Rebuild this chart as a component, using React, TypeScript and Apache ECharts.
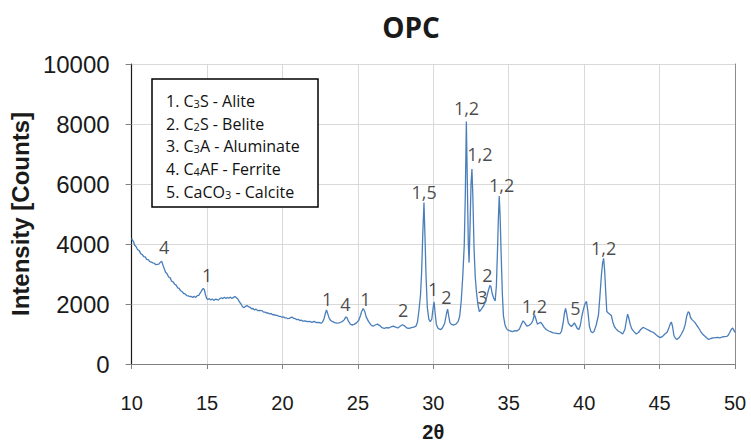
import React, { useEffect, useRef } from "react";
import * as echarts from "echarts";

const twoTheta = [
  10.0, 10.05, 10.12, 10.2, 10.3, 10.4, 10.5, 10.6, 10.7, 10.8, 10.9, 11.0, 11.1, 11.2, 11.3, 11.4, 11.5, 11.6, 11.7, 11.8, 11.9, 12.0,
  12.08, 12.15, 12.25, 12.35, 12.45, 12.55, 12.65, 12.75, 12.85, 12.95, 13.05, 13.15, 13.25, 13.35, 13.45, 13.55, 13.65, 13.75, 13.85,
  13.95, 14.05, 14.15, 14.25, 14.35, 14.45, 14.55, 14.65, 14.75, 14.82, 14.9, 14.98, 15.05, 15.15, 15.25, 15.35, 15.45, 15.55, 15.65,
  15.75, 15.85, 15.95, 16.05, 16.15, 16.25, 16.35, 16.45, 16.55, 16.65, 16.75, 16.85, 16.95, 17.05, 17.15, 17.25, 17.35, 17.45, 17.55,
  17.65, 17.75, 17.85, 17.95, 18.05, 18.15, 18.25, 18.35, 18.45, 18.55, 18.65, 18.75, 18.85, 18.95, 19.05, 19.15, 19.25, 19.35, 19.45,
  19.55, 19.65, 19.75, 19.85, 19.95, 20.05, 20.15, 20.25, 20.35, 20.45, 20.55, 20.65, 20.75, 20.85, 20.95, 21.05, 21.15, 21.25, 21.35,
  21.5, 21.65, 21.8, 21.95, 22.1, 22.25, 22.4, 22.55, 22.65, 22.75, 22.85, 22.92, 23.0, 23.1, 23.2, 23.3, 23.45, 23.6, 23.75, 23.9,
  24.0, 24.1, 24.2, 24.28, 24.38, 24.5, 24.6, 24.75, 24.9, 25.05, 25.15, 25.25, 25.35, 25.45, 25.55, 25.7, 25.85, 26.0, 26.15, 26.3,
  26.45, 26.6, 26.75, 26.9, 27.05, 27.2, 27.35, 27.5, 27.65, 27.8, 27.95, 28.1, 28.25, 28.4, 28.55, 28.7, 28.85, 28.95, 29.05, 29.15,
  29.22, 29.3, 29.38, 29.45, 29.52, 29.6, 29.7, 29.8, 29.9, 29.98, 30.05, 30.12, 30.2, 30.3, 30.4, 30.5, 30.6, 30.75, 30.88, 30.95,
  31.02, 31.1, 31.2, 31.35, 31.5, 31.65, 31.75, 31.85, 31.95, 32.05, 32.12, 32.19, 32.25, 32.32, 32.37, 32.43, 32.5, 32.56, 32.62, 32.7,
  32.78, 32.86, 32.95, 33.05, 33.15, 33.25, 33.35, 33.45, 33.55, 33.65, 33.75, 33.82, 33.9, 34.0, 34.1, 34.18, 34.25, 34.31, 34.37,
  34.43, 34.5, 34.58, 34.65, 34.75, 34.85, 34.95, 35.1, 35.25, 35.4, 35.55, 35.7, 35.85, 35.95, 36.05, 36.2, 36.35, 36.5, 36.6, 36.7,
  36.8, 36.9, 37.0, 37.1, 37.2, 37.35, 37.5, 37.65, 37.8, 37.95, 38.1, 38.25, 38.4, 38.5, 38.6, 38.7, 38.77, 38.85, 38.95, 39.05, 39.15,
  39.25, 39.35, 39.45, 39.55, 39.65, 39.75, 39.85, 39.95, 40.05, 40.15, 40.25, 40.35, 40.45, 40.55, 40.65, 40.8, 40.95, 41.05, 41.15,
  41.22, 41.29, 41.36, 41.43, 41.5, 41.6, 41.7, 41.8, 41.9, 42.0, 42.1, 42.25, 42.4, 42.55, 42.7, 42.8, 42.88, 42.95, 43.05, 43.15,
  43.3, 43.45, 43.6, 43.75, 43.9, 44.0, 44.15, 44.3, 44.45, 44.6, 44.75, 44.9, 45.05, 45.2, 45.35, 45.5, 45.6, 45.7, 45.78, 45.86,
  45.95, 46.05, 46.15, 46.3, 46.45, 46.6, 46.7, 46.8, 46.9, 46.98, 47.05, 47.15, 47.25, 47.35, 47.45, 47.55, 47.65, 47.75, 47.85,
  47.95, 48.1, 48.25, 48.4, 48.55, 48.7, 48.85, 49.0, 49.15, 49.3, 49.45, 49.55, 49.65, 49.75, 49.85, 49.93, 50.0,
];

const intensity = [
  4200, 4120, 4090, 3960, 3910, 3810, 3780, 3680, 3650, 3580, 3570, 3490, 3480, 3410, 3400, 3370, 3360, 3310, 3320, 3330, 3390, 3420,
  3290, 3190, 3060, 3010, 2900, 2880, 2760, 2740, 2660, 2630, 2540, 2520, 2440, 2410, 2350, 2340, 2280, 2270, 2250,
  2250, 2220, 2260, 2220, 2280, 2290, 2370, 2450, 2520, 2480, 2300, 2180, 2150, 2180, 2130, 2170, 2120, 2160, 2150,
  2130, 2180, 2210, 2180, 2230, 2180, 2220, 2190, 2230, 2180, 2220, 2250, 2210, 2160, 2070, 2000, 1910, 1880, 1920,
  1950, 1910, 1890, 1840, 1850, 1800, 1830, 1780, 1790, 1780, 1780, 1730, 1730, 1700, 1700, 1670, 1680, 1640, 1650,
  1620, 1620, 1590, 1590, 1560, 1570, 1540, 1540, 1510, 1520, 1550, 1560, 1520, 1510, 1480, 1490, 1450, 1460, 1430,
  1440, 1410, 1420, 1390, 1420, 1380, 1390, 1360, 1390, 1500, 1700, 1800, 1680, 1520, 1450, 1420, 1380, 1360, 1370, 1400,
  1430, 1480, 1570, 1540, 1420, 1330, 1300, 1320, 1370, 1450, 1580, 1750, 1850, 1760, 1570, 1420, 1310, 1260, 1300, 1330,
  1280, 1210, 1190, 1210, 1200, 1240, 1260, 1230, 1200, 1260, 1310, 1270, 1200, 1190, 1210, 1230, 1260, 1400, 1800, 2300,
  3000, 4300, 5380, 4200, 2900, 1900, 1500, 1410, 1500, 1850, 2070, 1700, 1320, 1200, 1160, 1150, 1200, 1350, 1700, 1830,
  1600, 1380, 1320, 1300, 1330, 1420, 1600, 2100, 2900, 3950, 5600, 8080, 6200, 4000, 3380, 4500, 6000, 6500, 5600, 3850,
  2900, 2400, 2000, 1750, 1800, 1880, 1950, 2080, 2250, 2450, 2620, 2580, 2350, 2200, 2100, 2600, 3700, 4800, 5600,
  4900, 3600, 2300, 1600, 1310, 1180, 1130, 1100, 1080, 1110, 1100, 1160, 1330, 1440, 1380, 1260, 1290, 1350, 1450, 1650,
  1500, 1330, 1360, 1390, 1340, 1220, 1140, 1100, 1070, 1040, 1030, 1010, 1010, 1100, 1350, 1720, 1850, 1650, 1360, 1300, 1250,
  1300, 1370, 1280, 1180, 1150, 1300, 1600, 1820, 2000, 2090, 1750, 1250, 1080, 1040, 1080, 1300, 1640, 2300, 3000,
  3350, 3520, 3100, 2400, 1750, 1700, 1660, 1620, 1400, 1250, 1180, 1100, 1060, 1000, 1150, 1450, 1660, 1550, 1330, 1180,
  1080, 1000, 1050, 1150, 1220, 1200, 1160, 1120, 1080, 1050, 980, 920, 880, 920, 1000, 1060, 1180, 1330, 1400, 1250,
  950, 860, 820, 880, 1000, 1150, 1320, 1600, 1740, 1700, 1550, 1480, 1430, 1380, 1300, 1230, 1150, 1060, 1000,
  950, 880, 820, 850, 870, 880, 890, 870, 900, 910, 920, 960, 1050, 1150, 1200, 1120, 1050,
];

const peakLabels = ["4", "1", "1", "4", "1", "2", "1,5", "1", "2", "1,2", "1,2", "3", "2", "1,2", "1,2", "5", "1,2"];
const peakLabelX = [12.16, 15.0, 22.96, 24.17, 25.49, 28.0, 29.39, 29.99, 30.87, 32.2, 33.09, 33.25, 33.58, 34.53, 36.7, 39.42, 41.29];
const peakLabelY = [3900, 2970, 2160, 1990, 2180, 1800, 5720, 2510, 2230, 8520, 6990, 2230, 2960, 5970, 1920, 1860, 3870];

const xTicks = { min: 10, max: 50, step: 5 };
const yTicks = { min: 0, max: 10000, step: 2000 };

const legendLines = [
  "{a|1. C}{s|3}{a|S - Alite}",
  "{a|2. C}{s|2}{a|S - Belite}",
  "{a|3. C}{s|3}{a|A - Aluminate}",
  "{a|4. C}{s|4}{a|AF - Ferrite}",
  "{a|5. CaCO}{s|3}{a| - Calcite}",
];

export default function App() {
  const ref = useRef<HTMLDivElement>(null);
  useEffect(() => {
    if (!ref.current) return;
    const chart = echarts.init(ref.current, null, { renderer: "svg" });
    const lineData = twoTheta.map((x, i) => [x, intensity[i]]);
    const labelData = peakLabelX.map((x, i) => ({ value: [x, peakLabelY[i]], name: peakLabels[i] }));
    const annoFont = '"Open Sans", "Noto Sans", sans-serif';
    const graphics: any[] = [
      {
        type: "text",
        x: 411,
        y: 27,
        style: {
          text: "OPC",
          font: 'bold 28px "Open Sans", sans-serif',
          fill: "#1a1a1a",
          align: "center",
          verticalAlign: "middle",
        },
      },
      {
        type: "rect",
        shape: { x: 152, y: 79, width: 166, height: 128 },
        style: { fill: "#fff", stroke: "#000", lineWidth: 1.5 },
        z: 100,
      },
    ];
    const lineYs = [101, 124, 146, 169, 192];
    legendLines.forEach((t, i) => {
      graphics.push({
        type: "text",
        x: 166,
        y: lineYs[i],
        z: 101,
        style: {
          text: t,
          align: "left",
          verticalAlign: "middle",
          rich: {
            a: { fontSize: 16, fontFamily: annoFont, fill: "#111", lineHeight: 20 },
            s: { fontSize: 11, fontFamily: annoFont, fill: "#111", lineHeight: 20, padding: [5, 0, 0, 0] },
          },
        },
      });
    });

    chart.setOption({
      animation: false,
      backgroundColor: "#fff",
      grid: { left: 130, right: 16, top: 64, bottom: 77 },
      xAxis: {
        type: "value",
        min: xTicks.min,
        max: xTicks.max,
        interval: xTicks.step,
        name: "2θ",
        nameLocation: "middle",
        nameGap: 58,
        nameTextStyle: { fontSize: 20, fontWeight: "bold", color: "#1a1a1a", fontFamily: "Liberation Sans, Arial, sans-serif" },
        axisLine: { show: true, onZero: false, lineStyle: { color: "#808080", width: 1 } },
        axisTick: { show: true, inside: false, length: 5, lineStyle: { color: "#808080" } },
        axisLabel: { fontSize: 20, color: "#1a1a1a", margin: 29, fontFamily: "Liberation Sans, Arial, sans-serif" },
        splitLine: { show: true, lineStyle: { color: "#d9d9d9", width: 1 } },
      },
      yAxis: [
        {
          type: "value",
          min: yTicks.min,
          max: yTicks.max,
          interval: yTicks.step,
          name: "Intensity [Counts]",
          nameLocation: "middle",
          nameGap: 92,
          nameTextStyle: { fontSize: 24, fontWeight: "bold", color: "#1a1a1a", fontFamily: "Liberation Sans, Arial, sans-serif" },
          axisLine: { show: true, lineStyle: { color: "#1a1a1a", width: 1.2 } },
          axisTick: { show: true, inside: false, length: 6, lineStyle: { color: "#808080" } },
          axisLabel: {
            fontSize: 24,
            color: "#1a1a1a",
            margin: 22,
            fontFamily: "Liberation Sans, Arial, sans-serif",
            formatter: (v: number) => String(v),
          },
          splitLine: { show: true, lineStyle: { color: "#d9d9d9", width: 1 } },
        },
        {
          type: "value",
          position: "right",
          min: yTicks.min,
          max: yTicks.max,
          interval: yTicks.step,
          axisLine: { show: true, lineStyle: { color: "#8c8c8c", width: 1 } },
          axisTick: { show: false },
          axisLabel: { show: false },
          splitLine: { show: false },
        },
      ],
      series: [
        {
          type: "line",
          data: lineData,
          showSymbol: false,
          symbol: "none",
          lineStyle: { color: "#4a7ebb", width: 1.3 },
          silent: true,
        },
        {
          type: "scatter",
          data: labelData,
          symbolSize: 0,
          silent: true,
          label: {
            show: true,
            position: "inside",
            formatter: (p: any) => p.name,
            fontSize: 18,
            fontFamily: annoFont,
            color: "#1a1a1a",
          },
        },
      ],
      graphic: graphics,
    });
    return () => chart.dispose();
  }, []);
  return <div ref={ref} style={{ width: 751, height: 447, position: "absolute", left: 0, top: 0 }} />;
}
